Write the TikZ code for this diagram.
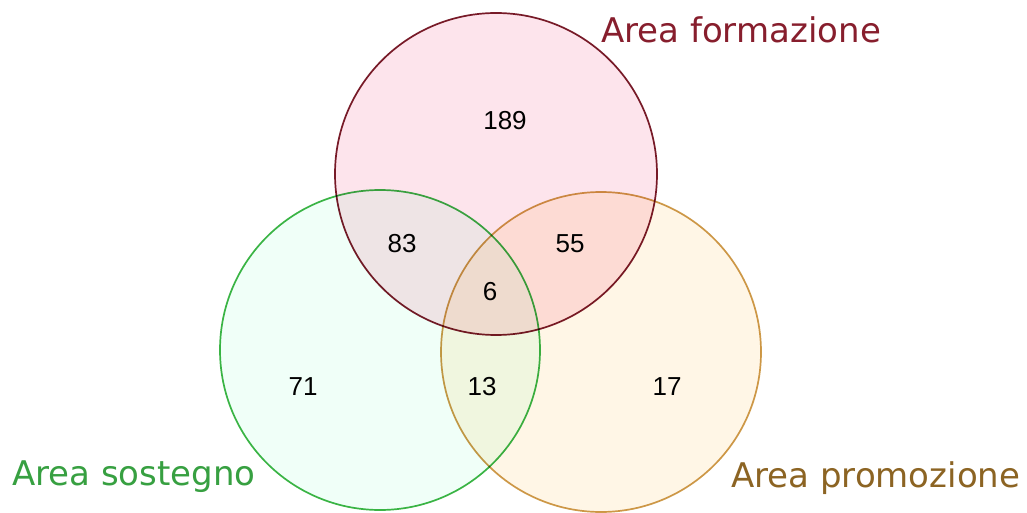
\documentclass[tikz,border=0pt]{standalone}
\usepackage{fontspec}
\newfontfamily\labfont{DejaVu Sans}
\newfontfamily\numfont{Liberation Sans}
\definecolor{fstroke}{RGB}{120,28,42}
\definecolor{ffill}{RGB}{253,228,236}
\definecolor{flab}{RGB}{135,30,45}
\definecolor{sstroke}{RGB}{60,180,70}
\definecolor{sfill}{RGB}{240,255,248}
\definecolor{slab}{RGB}{55,160,65}
\definecolor{pstroke}{RGB}{205,155,75}
\definecolor{pfill}{RGB}{255,246,230}
\definecolor{plab}{RGB}{140,100,35}
\begin{document}
\begin{tikzpicture}[x=1pt,y=-1pt,
  venn/.style={circle, inner sep=0pt, outer sep=0pt, line width=1.7pt},
  setlabel/.style={anchor=base west, inner sep=0pt, font=\labfont\fontsize{34}{40}\selectfont},
  count/.style={anchor=base, inner sep=0pt, font=\numfont\fontsize{26}{30}\selectfont}]
\fill[white] (0,0) rectangle (1027,510);
\begin{scope}[blend group=multiply]
  \node[venn, minimum size=322pt, draw=fstroke, fill=ffill] (F) at (496,174) {};
  \node[venn, minimum size=320pt, draw=sstroke, fill=sfill] (S) at (380,350) {};
  \node[venn, minimum size=320pt, draw=pstroke, fill=pfill] (P) at (601,352) {};
\end{scope}
\node[setlabel, text=flab] (Fl) at (601,43) {Area formazione};
\node[setlabel, text=slab] (Sl) at (12,485) {Area sostegno};
\node[setlabel, text=plab] (Pl) at (731,487) {Area promozione};
\node[count] (n189) at (505,130) {189};
\node[count] (n83) at (402,252) {83};
\node[count] (n55) at (570,252) {55};
\node[count] (n6) at (490,300) {6};
\node[count] (n71) at (303,395) {71};
\node[count] (n13) at (482,395) {13};
\node[count] (n17) at (667,395) {17};
\end{tikzpicture}
\end{document}
